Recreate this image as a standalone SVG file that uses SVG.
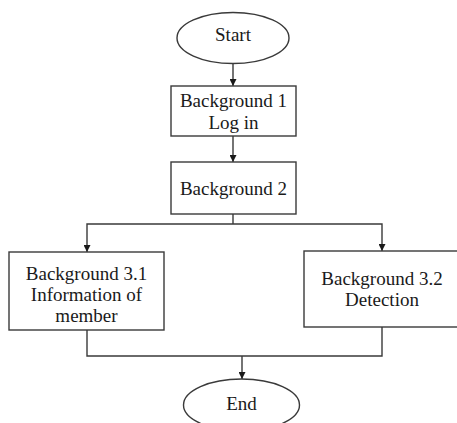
<svg xmlns="http://www.w3.org/2000/svg" width="457" height="423" viewBox="0 0 457 423">
  <style>
    .shape { fill: #ffffff; stroke: #3a3a3a; stroke-width: 1.4; }
    .link { fill: none; stroke: #3a3a3a; stroke-width: 1.4; }
    .label { font-family: "Liberation Serif", "Times New Roman", serif; font-size: 19px; fill: #1a1a1a; text-anchor: middle; }
  </style>
  <defs>
    <marker id="arrow" viewBox="0 0 10 10" refX="10" refY="5" markerWidth="7" markerHeight="7" markerUnits="userSpaceOnUse" orient="auto">
      <path d="M0,0 L10,5 L0,10 z" fill="#1a1a1a"/>
    </marker>
  </defs>
  <rect width="457" height="423" fill="#ffffff"/>

  <g id="connectors">
    <line class="link" x1="233" y1="63" x2="233" y2="86" marker-end="url(#arrow)"/>
    <line class="link" x1="233" y1="136" x2="233" y2="162" marker-end="url(#arrow)"/>
    <!-- split below Background 2 -->
    <line class="link" x1="233" y1="214" x2="233" y2="224"/>
    <polyline class="link" points="233,224 87,224 87,252" marker-end="url(#arrow)"/>
    <polyline class="link" points="233,224 382,224 382,251" marker-end="url(#arrow)"/>
    <!-- merge into End -->
    <polyline class="link" points="87,330 87,356 382,356 382,327"/>
    <line class="link" x1="242" y1="356" x2="242" y2="379" marker-end="url(#arrow)"/>
  </g>

  <g id="start">
    <ellipse class="shape" cx="233" cy="38" rx="56" ry="25.5"/>
    <text class="label" x="233" y="41">Start</text>
  </g>

  <g id="background1">
    <rect class="shape" x="171" y="86" width="125" height="50"/>
    <text class="label" x="233.5" y="107">Background 1</text>
    <text class="label" x="233.5" y="129">Log in</text>
  </g>

  <g id="background2">
    <rect class="shape" x="171" y="162" width="125" height="52"/>
    <text class="label" x="233.5" y="195">Background 2</text>
  </g>

  <g id="background31">
    <rect class="shape" x="9" y="252" width="155" height="78"/>
    <text class="label" x="86.5" y="280">Background 3.1</text>
    <text class="label" x="86.5" y="301">Information of</text>
    <text class="label" x="86.5" y="322">member</text>
  </g>

  <g id="background32">
    <rect class="shape" x="304" y="251" width="160" height="76"/>
    <text class="label" x="382" y="285">Background 3.2</text>
    <text class="label" x="382" y="306">Detection</text>
  </g>

  <g id="end">
    <ellipse class="shape" cx="241.5" cy="405" rx="58" ry="26"/>
    <text class="label" x="241.5" y="410">End</text>
  </g>
</svg>
